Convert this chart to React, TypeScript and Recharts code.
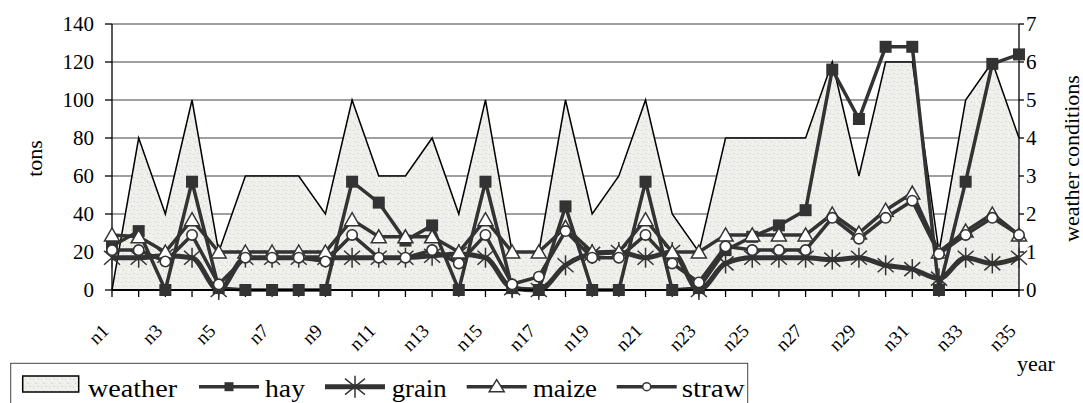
import React from 'react';
import { ComposedChart, Area, Line, XAxis, YAxis, CartesianGrid, Legend, Label } from 'recharts';

const years = ['n1','n2','n3','n4','n5','n6','n7','n8','n9','n10','n11','n12','n13','n14','n15','n16','n17','n18','n19','n20','n21','n22','n23','n24','n25','n26','n27','n28','n29','n30','n31','n32','n33','n34','n35'];
const weather = [0,4,2,5,1,3,3,3,2,5,3,3,4,2,5,1,1,5,2,3,5,2,1,4,4,4,4,6,3,6,6,1,5,6,4];
const hay = [23,31,0,57,1,0,0,0,0,57,46,26,34,0,57,1,0,44,0,0,57,0,1,21,28,34,42,116,90,128,128,0,57,119,124];
const grain = [17,17,18,17,0,17,17,17,17,17,17,17,18,19,17,1,0,13,19,20,17,20,0,14,17,17,17,16,17,13,11,6,17,14,17];
const maize = [29,28,20,37,20,20,20,20,20,37,28,28,28,20,37,20,20,33,20,20,37,20,20,29,29,29,29,40,30,42,51,20,31,40,29];
const straw = [21,21,15,29,3,17,17,17,15,29,17,17,21,14,29,3,7,31,17,17,29,14,4,23,21,21,21,38,27,38,47,19,29,38,29];

const tonsTicks = [0,20,40,60,80,100,120,140];
const weatherTicks = [0,1,2,3,4,5,6,7];

const data = years.map((year, i) => ({
  year,
  weather: weather[i],
  hay: hay[i],
  grain: grain[i],
  maize: maize[i],
  straw: straw[i],
}));

const FONT = "'Liberation Serif', 'Times New Roman', Times, 'DejaVu Serif', serif";
const INK = '#333333';
const fontStyle = (size: number): React.CSSProperties => ({ fontFamily: FONT, fontSize: size });

const HayDot = (p: any) => (
  <rect key={`h${p.index}`} x={p.cx - 6} y={p.cy - 6} width={12} height={12} fill={INK} />
);
const GrainDot = (p: any) => (
  <g key={`g${p.index}`} stroke={INK} strokeWidth={1.5}>
    <line x1={p.cx} y1={p.cy - 10} x2={p.cx} y2={p.cy + 10} />
    <line x1={p.cx - 8} y1={p.cy - 7} x2={p.cx + 8} y2={p.cy + 7} />
    <line x1={p.cx - 8} y1={p.cy + 7} x2={p.cx + 8} y2={p.cy - 7} />
  </g>
);
const MaizeDot = (p: any) => (
  <path key={`m${p.index}`} d={`M${p.cx},${p.cy - 7} L${p.cx + 7.5},${p.cy + 6} L${p.cx - 7.5},${p.cy + 6} Z`} fill="#fff" stroke={INK} strokeWidth={1.5} />
);
const StrawDot = (p: any) => (
  <circle key={`s${p.index}`} cx={p.cx} cy={p.cy} r={5.2} fill="#fff" stroke={INK} strokeWidth={1.6} />
);

const XTick = (props: any) => {
  const { x, y, payload, index } = props;
  if (index % 2 !== 0) return <g />;
  return (
    <g transform={`translate(${x - 2},${y + 33}) rotate(-45)`}>
      <text x={0} y={0} textAnchor="end" style={fontStyle(19)} fill="#000">{payload.value}</text>
    </g>
  );
};

const legendItems = [
  { name: 'weather', kind: 'area', x: 22.7, tx: 88, tw: 89 },
  { name: 'hay', kind: 'hay', x: 199, tx: 265, tw: 40 },
  { name: 'grain', kind: 'grain', x: 325, tx: 391.7, tw: 55 },
  { name: 'maize', kind: 'maize', x: 466.7, tx: 533, tw: 64 },
  { name: 'straw', kind: 'straw', x: 616.7, tx: 681.7, tw: 63 },
];

const LegendBox = () => {
  const ly = 25.7;
  return (
    <svg width={1083} height={42} style={{ display: 'block', overflow: 'visible' }}>
      <rect x={10.7} y={2.3} width={737} height={46} fill="#fff" stroke="#444" strokeWidth={1} />
      {legendItems.map((it) => {
        let marker: React.ReactNode = null;
        if (it.kind === 'area') {
          marker = <rect x={it.x} y={15} width={56} height={16} fill="url(#speckle)" stroke="#000" strokeWidth={1.5} />;
        } else {
          const cx = it.x + 30;
          const sw = it.kind === 'grain' ? 5 : 3.5;
          marker = (
            <g>
              <line x1={it.x} y1={ly} x2={it.x + 60} y2={ly} stroke={INK} strokeWidth={sw} />
              {it.kind === 'hay' && <rect x={cx - 4.5} y={ly - 4.5} width={9} height={9} fill={INK} />}
              {it.kind === 'grain' && (
                <g stroke={INK} strokeWidth={1.5}>
                  <line x1={cx} y1={ly - 11} x2={cx} y2={ly + 11} />
                  <line x1={cx - 10} y1={ly - 8} x2={cx + 10} y2={ly + 8} />
                  <line x1={cx - 10} y1={ly + 8} x2={cx + 10} y2={ly - 8} />
                </g>
              )}
              {it.kind === 'maize' && <path d={`M${cx},${ly - 7} L${cx + 7.5},${ly + 5} L${cx - 7.5},${ly + 5} Z`} fill="#fff" stroke={INK} strokeWidth={1.5} />}
              {it.kind === 'straw' && <circle cx={cx} cy={ly} r={4} fill="#fff" stroke={INK} strokeWidth={1.5} />}
            </g>
          );
        }
        return (
          <g key={it.name}>
            {marker}
            <text x={it.tx} y={35.7} style={fontStyle(26)} fill="#000" textLength={it.tw} lengthAdjust="spacingAndGlyphs">{it.name}</text>
          </g>
        );
      })}
    </svg>
  );
};

export default function App() {
  return (
    <div style={{ position: 'absolute', left: 0, top: 0, width: 1083, height: 403, background: '#fff', overflow: 'hidden', fontFamily: FONT }}>
      <ComposedChart width={1083} height={403} data={data} margin={{ top: 24, right: 0, bottom: 0, left: 0 }} style={{ fontFamily: FONT }}>
        <defs>
          <pattern id="speckle" width="8" height="8" patternUnits="userSpaceOnUse">
            <rect width="8" height="8" fill="#efefec" />
            <rect x="1" y="2" width="1" height="1" fill="#d4d4d0" />
            <rect x="5" y="1" width="2" height="1" fill="#dadad6" />
            <rect x="3" y="5" width="1" height="2" fill="#d8d8d4" />
            <rect x="6" y="6" width="1" height="1" fill="#dededa" />
            <rect x="0" y="6" width="1" height="1" fill="#fbfbfa" />
            <rect x="4" y="3" width="1" height="1" fill="#fafaf9" />
          </pattern>
        </defs>
        <CartesianGrid yAxisId="left" horizontal vertical={false} stroke="#808080" strokeWidth={1.5} />
        <XAxis
          dataKey="year"
          scale="point"
          interval={0}
          height={71}
          tickSize={7}
          tick={<XTick />}
          axisLine={{ stroke: '#000', strokeWidth: 2 }}
          tickLine={{ stroke: '#000', strokeWidth: 1.3 }}
        >
          <Label
            content={() => (
              <text x={1017} y={371} style={fontStyle(22)} fill="#000">year</text>
            )}
          />
        </XAxis>
        <YAxis
          yAxisId="left"
          orientation="left"
          width={112}
          domain={[0, 140]}
          ticks={tonsTicks}
          interval={0}
          tickSize={7}
          tickMargin={11}
          tick={{ style: fontStyle(21), fill: '#000' }}
          axisLine={{ stroke: '#000', strokeWidth: 1.3 }}
          tickLine={{ stroke: '#000', strokeWidth: 1.3 }}
        >
          <Label
            content={() => (
              <text x={42} y={158.5} transform="rotate(-90 42 158.5)" textAnchor="middle" style={fontStyle(22)} fill="#000">tons</text>
            )}
          />
        </YAxis>
        <YAxis
          yAxisId="right"
          orientation="right"
          width={64}
          domain={[0, 7]}
          ticks={weatherTicks}
          interval={0}
          tickSize={5}
          tickMargin={2}
          tick={{ style: fontStyle(21), fill: '#000' }}
          axisLine={{ stroke: '#000', strokeWidth: 1.3 }}
          tickLine={{ stroke: '#000', strokeWidth: 1.3 }}
        >
          <Label
            content={() => (
              <text x={1079} y={158.5} transform="rotate(-90 1079 158.5)" textAnchor="middle" style={fontStyle(22)} fill="#000">weather conditions</text>
            )}
          />
        </YAxis>
        <Area yAxisId="right" type="linear" dataKey="weather" stroke="#000" strokeWidth={1.5} fill="url(#speckle)" fillOpacity={1} dot={false} activeDot={false} isAnimationActive={false} />
        <Line yAxisId="left" type="linear" dataKey="hay" stroke={INK} strokeWidth={3.5} dot={HayDot} activeDot={false} isAnimationActive={false} />
        <Line yAxisId="left" type="monotone" dataKey="grain" stroke={INK} strokeWidth={5} dot={GrainDot} activeDot={false} isAnimationActive={false} />
        <Line yAxisId="left" type="linear" dataKey="maize" stroke={INK} strokeWidth={3.5} dot={MaizeDot} activeDot={false} isAnimationActive={false} />
        <Line yAxisId="left" type="linear" dataKey="straw" stroke={INK} strokeWidth={3.5} dot={StrawDot} activeDot={false} isAnimationActive={false} />
        <Legend width={1083} height={42} wrapperStyle={{ left: 0, bottom: 0 }} content={() => <LegendBox />} />
      </ComposedChart>
    </div>
  );
}
